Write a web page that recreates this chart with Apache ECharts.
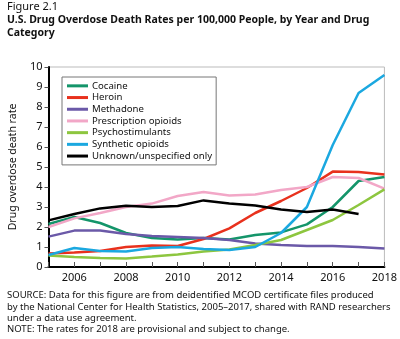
<!DOCTYPE html>
<html><head><meta charset="utf-8">
<script src="https://cdn.jsdelivr.net/npm/echarts@6/dist/echarts.min.js"></script>
<style>html,body{margin:0;padding:0;background:#fff}#c{width:400px;height:339px}</style>
</head><body><div id="c"></div>
<script>
const years = [2005,2006,2007,2008,2009,2010,2011,2012,2013,2014,2015,2016,2017,2018];
const seriesNames = ['Cocaine','Heroin','Methadone','Prescription opioids','Psychostimulants','Synthetic opioids','Unknown/unspecified only'];
const cocaine      = [2.15,2.5,2.2,1.7,1.45,1.38,1.45,1.38,1.6,1.73,2.13,3.0,4.3,4.5];
const heroin       = [0.68,0.72,0.8,1.0,1.07,1.05,1.4,1.93,2.7,3.3,3.95,4.77,4.75,4.62];
const methadone    = [1.52,1.82,1.83,1.65,1.55,1.5,1.45,1.35,1.18,1.1,1.05,1.05,1.0,0.93];
const prescription = [2.0,2.43,2.7,3.0,3.17,3.55,3.75,3.57,3.62,3.85,4.0,4.5,4.45,3.92];
const psychostim   = [0.58,0.5,0.45,0.42,0.52,0.63,0.77,0.88,1.1,1.35,1.85,2.35,3.1,3.88];
const synthetic    = [0.6,0.95,0.8,0.78,0.95,1.0,0.9,0.85,1.0,1.7,3.0,6.1,8.7,9.6];
const unknown      = [2.33,2.65,2.93,3.06,3.0,3.05,3.33,3.18,3.07,2.87,2.75,2.88,2.65,null];
const xTickLabels = ['2006','2008','2010','2012','2014','2016','2018'];
const yTickLabels = ['0','1','2','3','4','5','6','7','8','9','10'];
const colors = ['#14956a','#e8311d','#6b59a8','#f2a7c7','#8dc63f','#1ba8e0','#000000'];
const allValues = [cocaine,heroin,methadone,prescription,psychostim,synthetic,unknown];

const FONT = '"Noto Sans", "Open Sans", sans-serif';
const chart = echarts.init(document.getElementById('c'));
chart.setOption({
  animation:false,
  textStyle:{fontFamily:FONT},
  title:[
    {text:'Figure 2.1', left:7, top:0, padding:0, textStyle:{fontFamily:FONT,fontSize:11,fontWeight:'normal',color:'#111',lineHeight:13}},
    {text:'U.S. Drug Overdose Death Rates per 100,000 People, by Year and Drug\nCategory', left:7, top:14, padding:0,
     textStyle:{fontFamily:FONT,fontSize:10.5,fontWeight:'bold',color:'#111',lineHeight:13}},
    {text:'SOURCE: Data for this figure are from deidentified MCOD certificate files produced\nby the National Center for Health Statistics, 2005–2017, shared with RAND researchers\nunder a data use agreement.\nNOTE: The rates for 2018 are provisional and subject to change.',
     left:7, top:290, padding:0, textStyle:{fontFamily:FONT,fontSize:9.5,fontWeight:'normal',color:'#111',lineHeight:11.3}}
  ],
  legend:{
    orient:'vertical', left:62, top:77, itemGap:0, itemWidth:21, itemHeight:3, icon:'rect',
    borderColor:'#777', borderWidth:1, padding:[3,4,3,5], backgroundColor:'#fff',
    data:seriesNames,
    textStyle:{fontFamily:FONT,fontSize:9.6,color:'#111',lineHeight:11.7,padding:[0,0,0,-1]}
  },
  grid:{left:43,right:13,top:67,bottom:72,show:true,borderColor:'#bbb',borderWidth:1},
  xAxis:{type:'value',min:2005,max:2018,interval:1,
    axisLine:{lineStyle:{color:'#000',width:2}},
    axisTick:{inside:true,length:5,lineStyle:{color:'#555',width:1}},
    axisLabel:{fontFamily:FONT,fontSize:11,color:'#111',margin:5,
      formatter:v=>{const s=String(v);return xTickLabels.indexOf(s)>=0?s:'';}},
    splitLine:{show:false}},
  yAxis:{type:'value',min:0,max:10,interval:1,
    name:'Drug overdose death rate',nameLocation:'middle',nameGap:22,nameRotate:90,
    nameTextStyle:{fontFamily:FONT,fontSize:10.5,color:'#111'},
    axisLine:{show:true,lineStyle:{color:'#000',width:2}},
    axisTick:{show:true,inside:false,length:4,lineStyle:{color:'#555',width:1}},
    axisLabel:{fontFamily:FONT,fontSize:11,color:'#111',margin:6,formatter:v=>yTickLabels[v]},
    splitLine:{show:false}},
  series: seriesNames.map((n,i)=>({
    name:n,type:'line',symbol:'none',smooth:false,
    lineStyle:{color:colors[i],width:2.5},itemStyle:{color:colors[i]},
    data: years.map((y,j)=>[y, allValues[i][j]]).filter(p=>p[1]!==null)
  }))
});
</script></body></html>
